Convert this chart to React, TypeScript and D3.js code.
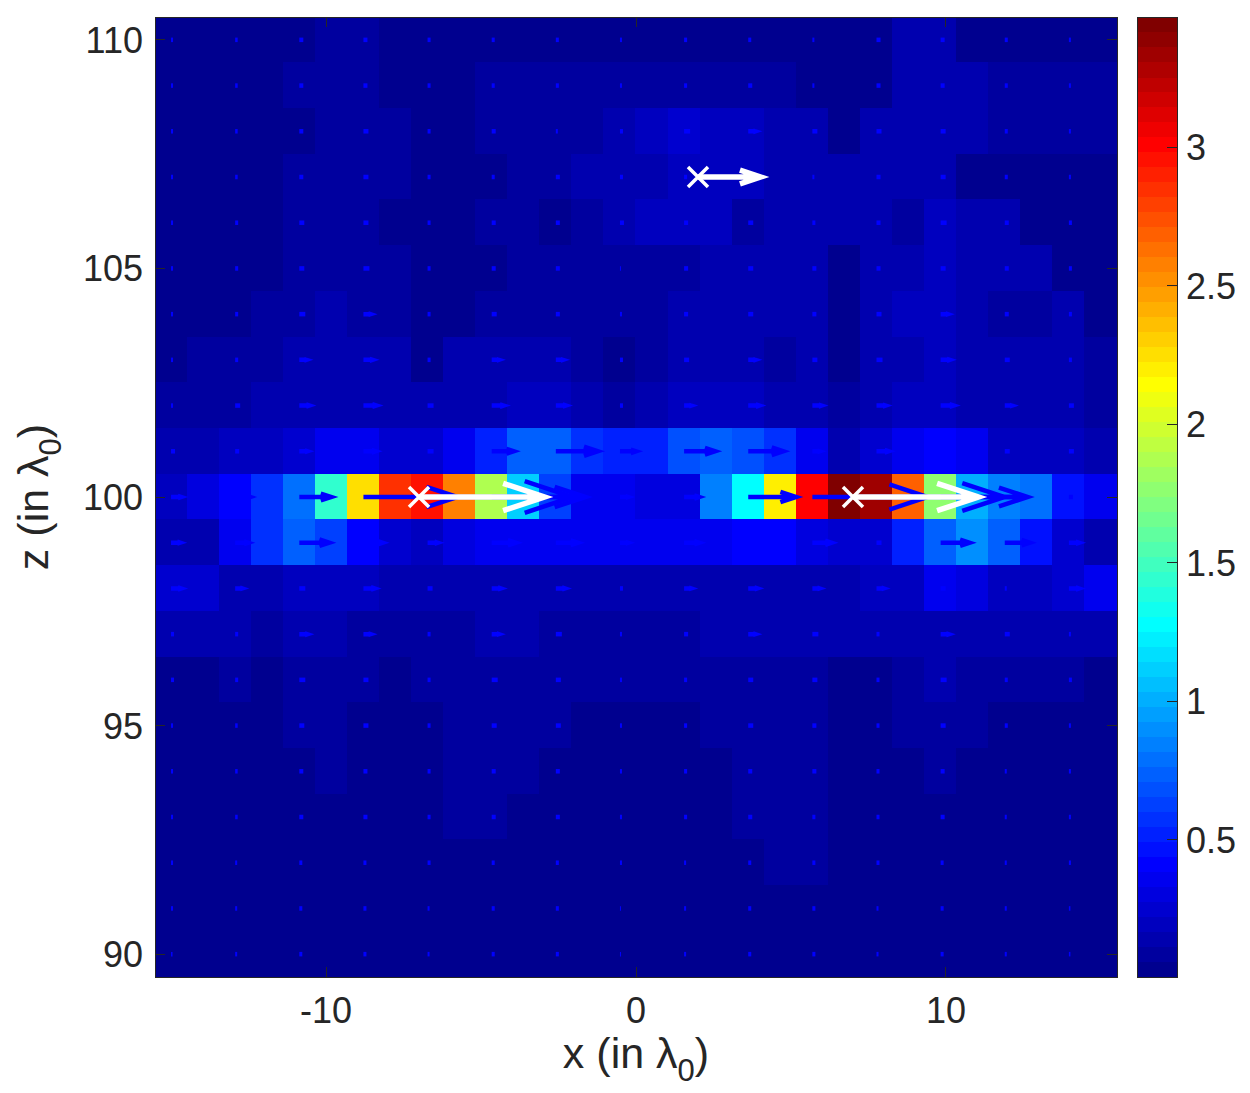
import React from "react";
import * as d3 from "d3";

// grid of the field map: x centres linspace(-15, 15, 30), z rows 110 .. 90
const xCount = 30;
const xCenters = d3.range(xCount).map((k) => -15 + (30 / (xCount - 1)) * k);
const zLevels = [110, 109, 108, 107, 106, 105, 104, 103, 102, 101, 100, 99, 98, 97, 96, 95, 94, 93, 92, 91, 90];

// field intensity, one row per z level (top row z = 110)
const intensity = [
  [.05, .05, .05, .05, .04, .10, .10, .05, .05, .05, .05, .05, .05, .05, .05, .05, .05, .05, .05, .05, .05, .05, .05, .12, .12, .05, .05, .05, .05, .05],
  [.05, .05, .05, .05, .10, .10, .10, .05, .05, .05, .06, .06, .06, .06, .06, .06, .10, .10, .06, .06, .05, .05, .05, .12, .12, .13, .06, .06, .06, .06],
  [.05, .05, .05, .05, .04, .10, .10, .10, .05, .05, .10, .10, .10, .10, .16, .19, .24, .21, .20, .15, .12, .05, .12, .12, .12, .12, .07, .07, .07, .07],
  [.05, .05, .05, .05, .10, .10, .10, .10, .05, .05, .05, .10, .10, .14, .14, .14, .22, .22, .22, .15, .12, .12, .12, .12, .12, .05, .05, .05, .05, .05],
  [.05, .05, .05, .05, .10, .10, .10, .05, .05, .05, .10, .10, .05, .10, .15, .19, .19, .19, .11, .15, .12, .12, .12, .10, .17, .13, .13, .05, .05, .05],
  [.05, .05, .05, .05, .10, .10, .10, .10, .05, .05, .05, .10, .10, .10, .10, .10, .06, .12, .12, .12, .12, .05, .12, .12, .17, .13, .13, .13, .05, .05],
  [.05, .05, .05, .10, .10, .15, .10, .10, .05, .05, .10, .10, .10, .10, .10, .10, .14, .14, .14, .14, .12, .05, .12, .17, .17, .12, .07, .07, .13, .05],
  [.05, .10, .10, .10, .14, .14, .14, .12, .05, .12, .13, .13, .12, .10, .05, .07, .12, .14, .14, .10, .12, .04, .14, .12, .19, .14, .12, .12, .12, .06],
  [.10, .10, .10, .12, .16, .16, .16, .14, .14, .14, .14, .20, .20, .14, .10, .12, .19, .21, .21, .14, .14, .10, .16, .21, .21, .14, .12, .12, .12, .08],
  [.14, .14, .19, .19, .23, .35, .35, .27, .27, .37, .53, .71, .71, .58, .50, .53, .69, .74, .69, .60, .37, .14, .27, .34, .42, .34, .21, .21, .19, .16],
  [.22, .28, .40, .58, .80, 1.45, 2.26, 2.85, 2.96, 2.58, 1.88, 1.12, .62, .37, .37, .31, .31, .85, 1.29, 2.21, 3.01, 3.47, 3.34, 2.69, 1.77, 1.01, .85, .77, .47, .37],
  [.12, .16, .37, .58, .74, .64, .43, .24, .21, .31, .37, .37, .37, .37, .37, .37, .33, .33, .42, .42, .31, .24, .24, .53, .74, .91, .74, .48, .26, .16],
  [.24, .24, .16, .16, .19, .19, .19, .14, .14, .14, .16, .16, .12, .12, .12, .12, .12, .14, .14, .14, .16, .16, .19, .22, .33, .31, .21, .19, .24, .33],
  [.12, .14, .12, .06, .12, .12, .10, .10, .10, .10, .12, .12, .09, .09, .09, .09, .09, .12, .12, .12, .12, .12, .12, .14, .14, .14, .14, .14, .16, .12],
  [.05, .05, .10, .05, .10, .10, .10, .05, .10, .10, .10, .10, .10, .10, .10, .10, .10, .10, .10, .10, .10, .05, .05, .10, .13, .10, .10, .10, .10, .05],
  [.05, .05, .05, .05, .10, .10, .05, .05, .05, .10, .10, .10, .10, .05, .05, .05, .05, .10, .10, .10, .10, .05, .05, .10, .10, .10, .05, .05, .05, .05],
  [.05, .05, .05, .05, .05, .10, .05, .05, .05, .10, .10, .10, .05, .05, .05, .05, .05, .05, .10, .10, .10, .05, .05, .05, .10, .05, .05, .05, .05, .05],
  [.04, .04, .04, .04, .04, .04, .04, .04, .04, .10, .10, .04, .04, .04, .04, .04, .04, .04, .10, .10, .10, .04, .04, .04, .04, .04, .04, .04, .04, .04],
  [.03, .03, .03, .03, .03, .03, .03, .03, .03, .03, .03, .03, .03, .03, .03, .03, .03, .03, .03, .10, .10, .03, .03, .03, .03, .03, .03, .03, .03, .03],
  [.03, .03, .03, .03, .03, .03, .03, .03, .03, .03, .03, .03, .03, .03, .03, .03, .03, .03, .03, .03, .03, .03, .03, .03, .03, .03, .03, .03, .03, .03],
  [.02, .02, .02, .02, .02, .02, .02, .02, .02, .02, .005, .02, .02, .02, .02, .02, .02, .02, .02, .02, .02, .02, .02, .02, .02, .02, .02, .02, .02, .02],
];

// energy flow along +x, sampled on every other x column (arbitrary units)
const flow = [
  [2, 2.5, 4, 4, 3, 3, 3, 2, 3, 3, 2, 4, 4, 3, 2],
  [2, 2.5, 4, 4, 3, 3, 3, 2, 3, 4, 2, 4, 4, 3, 2],
  [2, 2.5, 4, 5, 3, 4, 2, 3, 6, 7, 5, 5, 5, 3, 2],
  [2, 2.5, 4, 5, 3, 3, 4, 3, 3, 5, 2, 4, 5, 3, 2],
  [2, 3, 5, 5, 3, 4, 4, 4, 4, 5, 3, 4, 6, 4, 3],
  [2, 3, 5, 6, 3, 4, 4, 1, 4, 5, 4, 4, 5, 4, 3],
  [2, 3, 6, 7, 3, 5, 4, 2, 4, 5, 4, 5, 7, 4, 3],
  [2, 3, 7, 9, 3, 7, 7, 3, 5, 7, 5, 6, 9, 5, 3],
  [2, 5, 10, 13, 6, 12, 10, 3, 7, 11, 9, 9, 13, 7, 5],
  [4, 4, 8, 12, 6, 22, 42, 16, 31, 35, 7, 12, 5, 5, 5],
  [10, 15, 32, 94, 145, 94, 10, 8, 15, 48, 115, 128, 87, 11, 4],
  [9, 13, 30, 19, 10, 24, 22, 8, 15, 10, 19, 5, 29, 25, 10],
  [10, 7, 6, 11, 5, 9, 9, 3, 7, 9, 7, 7, 5, 2, 10],
  [3, 3, 8, 7, 3, 7, 6, 2, 4, 7, 6, 3, 8, 5, 2],
  [3, 3, 6, 5, 3, 6, 5, 2, 3, 5, 5, 3, 6, 3, 3],
  [2, 2.5, 5, 5, 3, 5, 5, 2, 3, 5, 4, 3, 5, 3, 2],
  [2, 2.5, 4, 4, 3, 4, 4, 2, 3, 4, 4, 3, 4, 2, 2],
  [2, 2.5, 4, 4, 3, 4, 4, 2, 3, 4, 3, 3, 4, 2, 2],
  [2, 2, 3, 3, 3, 3, 3, 2, 2, 3, 3, 3, 3, 2, 2],
  [2, 2, 3, 3, 2, 3, 3, 1, 2, 3, 3, 2, 3, 2, 1.5],
  [1.5, 2, 3, 3, 2, 3, 3, 1, 2, 3, 3, 2, 3, 2, 1.5],
];
const quiverScale = 1 / 31; // lambda0 per flow unit

// the three sources (white crosses and arrows)
const sourceX = [2, -7, 7];
const sourceZ = [107, 100, 100];
const sourceFlow = [2.02, 4.05, 4.05];

const xTicks = [-10, 0, 10];
const zTicks = [90, 95, 100, 105, 110];
const colorTicks = [0.5, 1, 1.5, 2, 2.5, 3];

// matlab's jet(m)
const jet = (m: number): string[] => {
  const n = Math.ceil(m / 4);
  const u: number[] = [];
  for (let i = 1; i <= n; i++) u.push(i / n);
  for (let i = 1; i < n; i++) u.push(1);
  for (let i = n; i >= 1; i--) u.push(i / n);
  const off = Math.ceil(n / 2) - (m % 4 === 1 ? 1 : 0);
  const R = new Array(m).fill(0);
  const G = new Array(m).fill(0);
  const B = new Array(m).fill(0);
  u.forEach((v, k) => {
    const g = off + k + 1;
    const r = g + n;
    const b = g - n;
    if (g >= 1 && g <= m) G[g - 1] = v;
    if (r >= 1 && r <= m) R[r - 1] = v;
    if (b >= 1 && b <= m) B[b - 1] = v;
  });
  return d3.range(m).map((i) => d3.rgb(R[i] * 255, G[i] * 255, B[i] * 255).formatHex());
};

const arrowPath = (x0: number, y0: number, x1: number, head: boolean) => {
  const len = x1 - x0;
  let d = `M${x0},${y0}L${x1},${y0}`;
  if (head) {
    const back = 0.33 * len;
    const half = 0.33 * 0.33 * len;
    d += `M${x1 - back},${y0 - half}L${x1},${y0}L${x1 - back},${y0 + half}`;
  }
  return d;
};

const fmt = (v: number) => (v < 0 ? `-${Math.abs(v)}` : `${v}`);

export default function App() {
  const plot = { left: 155, top: 17, right: 1117, bottom: 977 };
  const bar = { left: 1137, right: 1177 };
  const font = "'Liberation Sans', Arial, Helvetica, sans-serif";
  const ink = "#262626";
  const tickSize = 36;
  const labelSize = 43;
  const subSize = 31;

  const dx = 30 / (xCount - 1);
  const xScale = d3
    .scaleLinear()
    .domain([xCenters[0] - dx / 2, xCenters[xCount - 1] + dx / 2])
    .range([plot.left, plot.right]);
  const zScale = d3
    .scaleLinear()
    .domain([d3.min(zLevels)! - 0.5, d3.max(zLevels)! + 0.5])
    .range([plot.bottom, plot.top]);

  const all = intensity.flat();
  const cMin = d3.min(all)!;
  const cMax = d3.max(all)!;
  const palette = jet(64);
  const color = d3.scaleQuantize<string>().domain([cMin, cMax]).range(palette);
  const cScale = d3.scaleLinear().domain([cMin, cMax]).range([plot.bottom, plot.top]);

  const quiverX = xCenters.filter((_, k) => k % 2 === 0);

  return (
    <div style={{ position: "absolute", left: 0, top: 0 }}>
      <svg width={1250} height={1093} style={{ display: "block", background: "#fff" }}>
        {/* heat map */}
        <g shapeRendering="crispEdges">
          {intensity.map((row, r) =>
            row.map((v, c) => {
              const x0 = Math.floor(xScale(xCenters[c] - dx / 2));
              const x1 = Math.ceil(xScale(xCenters[c] + dx / 2));
              const y0 = Math.floor(zScale(zLevels[r] + 0.5));
              const y1 = Math.ceil(zScale(zLevels[r] - 0.5));
              return <rect key={`${r}-${c}`} x={x0} y={y0} width={x1 - x0} height={y1 - y0} fill={color(v)} />;
            })
          )}
        </g>

        {/* blue quiver */}
        <g stroke="#0000ff" strokeWidth={4.5} fill="none" strokeLinecap="butt" strokeLinejoin="miter">
          {flow.map((row, r) =>
            row.map((f, k) => {
              const x0 = xScale(quiverX[k]);
              const x1 = xScale(quiverX[k] + f * quiverScale);
              const y = zScale(zLevels[r]);
              return <path key={`q${r}-${k}`} d={arrowPath(x0, y, x1, x1 - x0 > 6)} />;
            })
          )}
        </g>

        {/* sources */}
        <g stroke="#ffffff" fill="none" strokeLinecap="butt" strokeLinejoin="miter">
          {sourceX.map((sx, i) => {
            const x0 = xScale(sx);
            const x1 = xScale(sx + sourceFlow[i]);
            const y = zScale(sourceZ[i]);
            const s = 10;
            return (
              <g key={`s${i}`}>
                <path d={arrowPath(x0, y, x1, true)} strokeWidth={5.5} />
                <path d={`M${x0 - s},${y - s}L${x0 + s},${y + s}M${x0 - s},${y + s}L${x0 + s},${y - s}`} strokeWidth={3.5} />
              </g>
            );
          })}
        </g>

        {/* axes box and ticks */}
        <g stroke={ink} strokeWidth={1} fill="none" shapeRendering="crispEdges">
          <rect x={plot.left} y={plot.top} width={plot.right - plot.left} height={plot.bottom - plot.top} />
          {xTicks.map((t) => (
            <g key={`xt${t}`}>
              <line x1={xScale(t)} x2={xScale(t)} y1={plot.bottom} y2={plot.bottom - 10} />
              <line x1={xScale(t)} x2={xScale(t)} y1={plot.top} y2={plot.top + 10} />
            </g>
          ))}
          {zTicks.map((t) => (
            <g key={`zt${t}`}>
              <line x1={plot.left} x2={plot.left + 10} y1={zScale(t)} y2={zScale(t)} />
              <line x1={plot.right} x2={plot.right - 10} y1={zScale(t)} y2={zScale(t)} />
            </g>
          ))}
        </g>
        <g fontFamily={font} fontSize={tickSize} fill={ink}>
          {xTicks.map((t) => (
            <text key={`xl${t}`} x={xScale(t)} y={plot.bottom + 46} textAnchor="middle">
              {fmt(t)}
            </text>
          ))}
          {zTicks.map((t) => (
            <text key={`zl${t}`} x={plot.left - 12} y={zScale(t)} dy="0.36em" textAnchor="end">
              {fmt(t)}
            </text>
          ))}
        </g>

        {/* axis labels */}
        <text x={636} y={1068} fontFamily={font} fontSize={labelSize} fill={ink} textAnchor="middle">
          x (in λ
          <tspan fontSize={subSize} dy={13}>0</tspan>
          <tspan dy={-13}>)</tspan>
        </text>
        <text
          transform={`translate(48, ${(plot.top + plot.bottom) / 2}) rotate(-90)`}
          fontFamily={font}
          fontSize={labelSize}
          fill={ink}
          textAnchor="middle"
        >
          z (in λ
          <tspan fontSize={subSize} dy={13}>0</tspan>
          <tspan dy={-13}>)</tspan>
        </text>

        {/* colour bar */}
        <g shapeRendering="crispEdges">
          {palette.map((c, i) => {
            const v0 = cMin + ((cMax - cMin) * i) / palette.length;
            const v1 = cMin + ((cMax - cMin) * (i + 1)) / palette.length;
            const y0 = Math.floor(cScale(v1));
            const y1 = Math.ceil(cScale(v0));
            return <rect key={`cb${i}`} x={bar.left} y={y0} width={bar.right - bar.left} height={y1 - y0} fill={c} />;
          })}
          <rect x={bar.left} y={plot.top} width={bar.right - bar.left} height={plot.bottom - plot.top} fill="none" stroke={ink} />
          {colorTicks.map((t) => (
            <line key={`ct${t}`} x1={bar.right} x2={bar.right - 10} y1={cScale(t)} y2={cScale(t)} stroke={ink} />
          ))}
        </g>
        <g fontFamily={font} fontSize={tickSize} fill={ink}>
          {colorTicks.map((t) => (
            <text key={`cl${t}`} x={bar.right + 9} y={cScale(t)} dy="0.36em">
              {fmt(t)}
            </text>
          ))}
        </g>
      </svg>
    </div>
  );
}
